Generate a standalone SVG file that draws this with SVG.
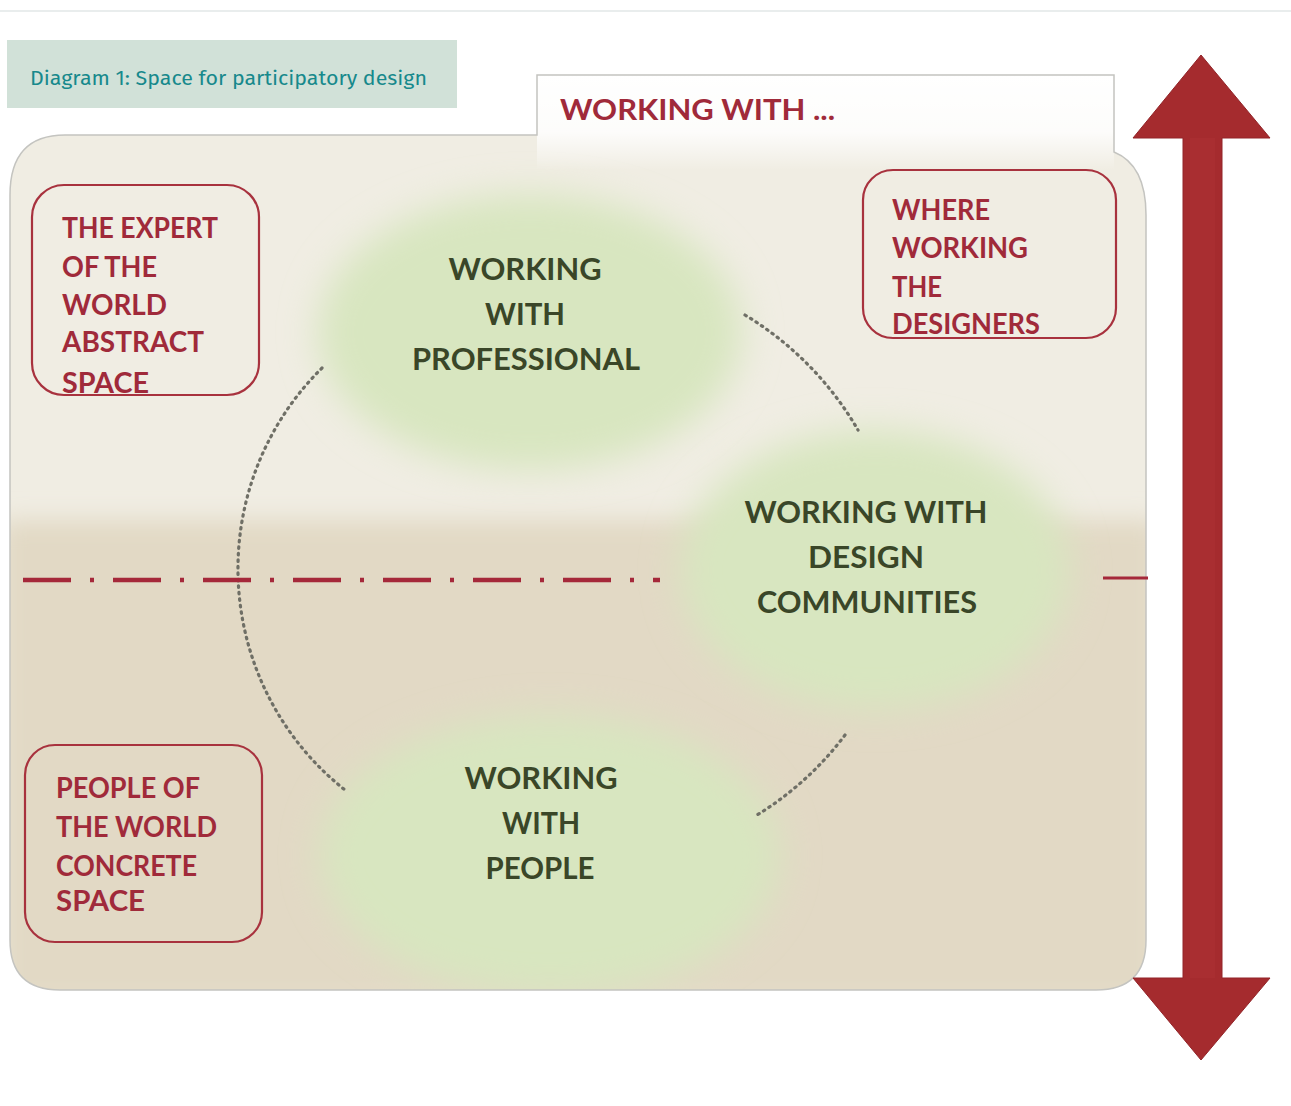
<svg xmlns="http://www.w3.org/2000/svg" width="1291" height="1106" viewBox="0 0 1291 1106">
  <style>
    .red { font-family: Lato, "Liberation Sans", sans-serif; font-weight: bold; fill: #a02a3a; font-size: 29px; }
    .grn { font-family: Lato, "Liberation Sans", sans-serif; font-weight: bold; fill: #3a4628; font-size: 31px; text-anchor: middle; }
    .box { fill: none; stroke: #a8323e; stroke-width: 2.2; }
    .dots { fill: none; stroke: #6f6f66; stroke-width: 3.2; stroke-dasharray: 1.5 5; stroke-linecap: round; }
  </style>
  <defs>
    <clipPath id="panelClip">
      <path d="M10,195 Q10,135 65,135 L537,135 L537,75 L1114,75 L1114,152 Q1146,165 1146,215 L1146,940 Q1146,990 1096,990 L60,990 Q10,990 10,940 Z"/>
    </clipPath>
    <filter id="blur" x="-30%" y="-30%" width="160%" height="160%">
      <feGaussianBlur stdDeviation="18"/>
    </filter>
    <filter id="blur2" x="-10%" y="-50%" width="120%" height="200%">
      <feGaussianBlur stdDeviation="12"/>
    </filter>
    <linearGradient id="tabGrad" x1="0" y1="0" x2="0" y2="1">
      <stop offset="0" stop-color="#ffffff" stop-opacity="1"/>
      <stop offset="0.6" stop-color="#ffffff" stop-opacity="0.85"/>
      <stop offset="1" stop-color="#ffffff" stop-opacity="0"/>
    </linearGradient>
  </defs>

  <rect x="0" y="0" width="1291" height="1106" fill="#ffffff"/>
  <line x1="0" y1="11" x2="1291" y2="11" stroke="#e2e7e7" stroke-width="1.5"/>

  <g id="caption">
    <rect x="7" y="40" width="450" height="68" fill="#d1e1d8"/>
    <text x="30" y="85" font-family="'Fira Sans', 'Noto Sans', 'Open Sans', sans-serif" font-size="21" fill="#17898c" textLength="397" lengthAdjust="spacingAndGlyphs">Diagram 1: Space for participatory design</text>
  </g>

  <g id="panel">
    <g clip-path="url(#panelClip)">
      <rect x="0" y="70" width="1160" height="930" fill="#f0ede3"/>
      <rect x="0" y="520" width="1160" height="485" fill="#e2d9c5" filter="url(#blur2)"/>
      <ellipse cx="530" cy="332" rx="212" ry="138" fill="#d8e6c0" filter="url(#blur)"/>
      <ellipse cx="875" cy="570" rx="195" ry="140" fill="#d8e6c0" filter="url(#blur)"/>
      <ellipse cx="550" cy="855" rx="230" ry="140" fill="#d8e6c0" filter="url(#blur)"/>
      <rect x="537" y="75" width="577" height="95" fill="url(#tabGrad)"/>
    </g>
    <path d="M10,195 Q10,135 65,135 L537,135 L537,75 L1114,75 L1114,152 Q1146,165 1146,215 L1146,940 Q1146,990 1096,990 L60,990 Q10,990 10,940 Z" fill="none" stroke="#c4c4c0" stroke-width="1.5"/>
  </g>

  <g id="tab-label">
    <text class="red" x="560" y="120" textLength="275" lengthAdjust="spacingAndGlyphs">WORKING WITH ...</text>
  </g>

  <g id="connectors">
    <path class="dots" d="M322,368 A282,282 0 0 0 345,790"/>
    <path class="dots" d="M745,315 A325,325 0 0 1 858,430"/>
    <path class="dots" d="M845,735 A318,318 0 0 1 757,815"/>
    <line x1="23" y1="580" x2="660" y2="580" stroke="#a5283a" stroke-width="4.5" stroke-dasharray="48 19 4 19"/>
    <line x1="1103" y1="578" x2="1148" y2="578" stroke="#a5283a" stroke-width="3"/>
    <polygon points="1201,55 1270,138 1222,138 1222,978 1270,978 1201,1060 1133,978 1183,978 1183,138 1133,138" fill="#a52b2e" stroke="#922428" stroke-width="1"/>
    <rect x="1190" y="138" width="25" height="840" fill="#ab3033" opacity="0.6"/>
  </g>

  <g id="node-expert">
    <rect class="box" x="32" y="185" width="227" height="210" rx="32"/>
    <text class="red" x="62" y="238" textLength="156" lengthAdjust="spacingAndGlyphs">THE EXPERT</text>
    <text class="red" x="62" y="277" textLength="95" lengthAdjust="spacingAndGlyphs">OF THE</text>
    <text class="red" x="62" y="315" textLength="105" lengthAdjust="spacingAndGlyphs">WORLD</text>
    <text class="red" x="62" y="352" textLength="142" lengthAdjust="spacingAndGlyphs">ABSTRACT</text>
    <text class="red" x="62" y="393" textLength="87" lengthAdjust="spacingAndGlyphs">SPACE</text>
  </g>

  <g id="node-designers">
    <rect class="box" x="863" y="170" width="253" height="168" rx="30"/>
    <text class="red" x="892" y="220" textLength="98" lengthAdjust="spacingAndGlyphs">WHERE</text>
    <text class="red" x="892" y="258" textLength="136" lengthAdjust="spacingAndGlyphs">WORKING</text>
    <text class="red" x="892" y="297" textLength="50" lengthAdjust="spacingAndGlyphs">THE</text>
    <text class="red" x="892" y="334" textLength="148" lengthAdjust="spacingAndGlyphs">DESIGNERS</text>
  </g>

  <g id="node-people-world">
    <rect class="box" x="25" y="745" width="237" height="197" rx="30"/>
    <text class="red" x="56" y="798" textLength="144" lengthAdjust="spacingAndGlyphs">PEOPLE OF</text>
    <text class="red" x="56" y="837" textLength="161" lengthAdjust="spacingAndGlyphs">THE WORLD</text>
    <text class="red" x="56" y="876" textLength="141" lengthAdjust="spacingAndGlyphs">CONCRETE</text>
    <text class="red" x="56" y="911" textLength="89" lengthAdjust="spacingAndGlyphs">SPACE</text>
  </g>

  <g id="node-professional">
    <text class="grn" x="525" y="280" textLength="153" lengthAdjust="spacingAndGlyphs">WORKING</text>
    <text class="grn" x="525" y="325" textLength="80" lengthAdjust="spacingAndGlyphs">WITH</text>
    <text class="grn" x="526" y="370" textLength="228" lengthAdjust="spacingAndGlyphs">PROFESSIONAL</text>
  </g>

  <g id="node-communities">
    <text class="grn" x="866" y="523" textLength="243" lengthAdjust="spacingAndGlyphs">WORKING WITH</text>
    <text class="grn" x="866" y="568" textLength="116" lengthAdjust="spacingAndGlyphs">DESIGN</text>
    <text class="grn" x="867" y="613" textLength="220" lengthAdjust="spacingAndGlyphs">COMMUNITIES</text>
  </g>

  <g id="node-people">
    <text class="grn" x="541" y="789" textLength="153" lengthAdjust="spacingAndGlyphs">WORKING</text>
    <text class="grn" x="541" y="834" textLength="78" lengthAdjust="spacingAndGlyphs">WITH</text>
    <text class="grn" x="540" y="879" textLength="109" lengthAdjust="spacingAndGlyphs">PEOPLE</text>
  </g>
</svg>
